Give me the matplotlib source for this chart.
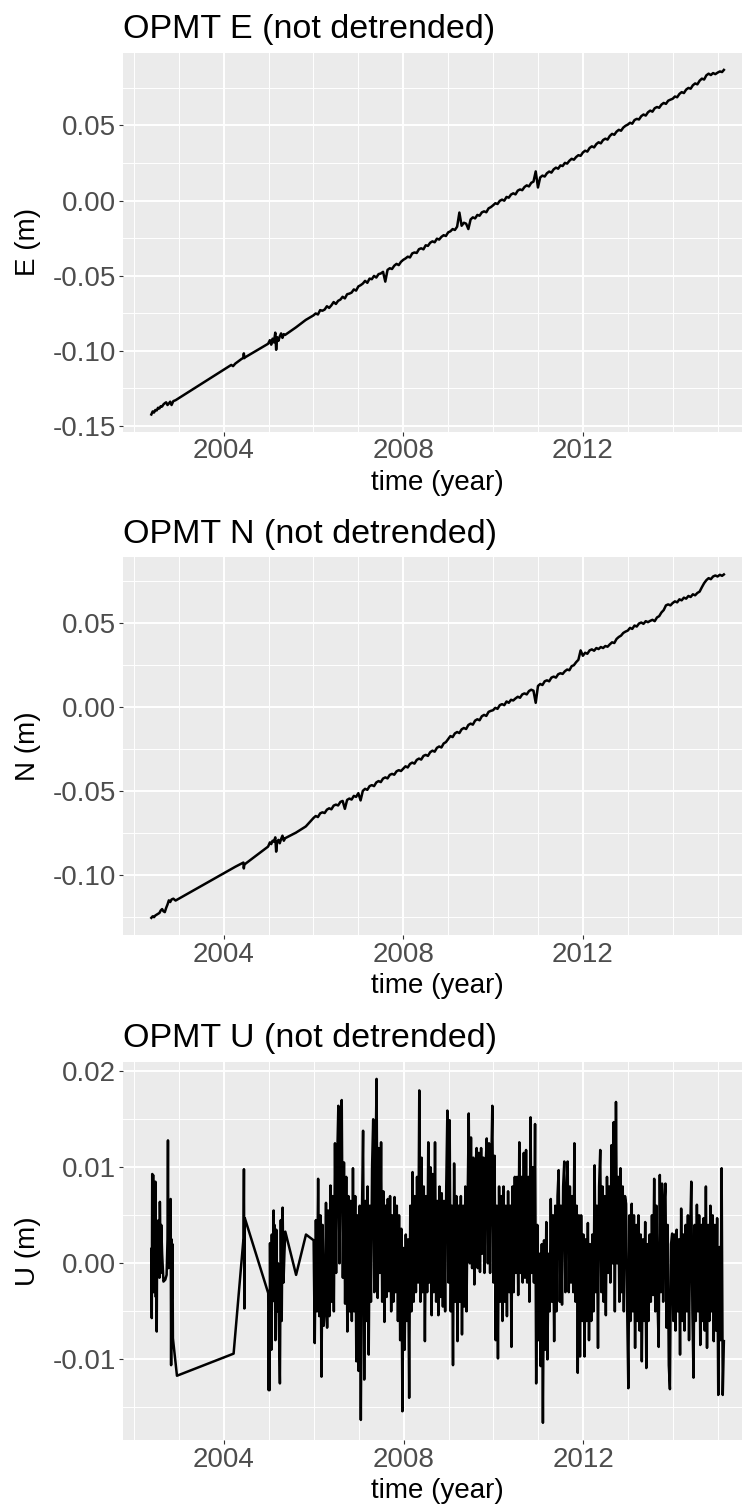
import numpy as np
import matplotlib.pyplot as plt
from matplotlib.ticker import FixedLocator, FormatStrFormatter

plt.rcParams["font.family"] = ["Liberation Sans", "DejaVu Sans"]
plt.rcParams["axes.unicode_minus"] = False

# ---- data (values in mm) ----
# sparse epochs before continuous tracking, E and N components
t_en_sparse = [2002.39, 2002.42, 2002.45, 2002.48, 2002.51, 2002.54, 2002.57, 2002.60, 2002.63,
               2002.66, 2002.69, 2002.72, 2002.75, 2002.78, 2002.81, 2002.84, 2002.88, 2002.93,
               2004.17, 2004.21, 2004.26, 2004.40, 2004.44, 2004.45, 2004.46, 2004.48,
               2004.99, 2005.03, 2005.06, 2005.09, 2005.12, 2005.15, 2005.17, 2005.19, 2005.22,
               2005.25, 2005.28, 2005.31, 2005.34, 2005.37,
               2005.61, 2005.83]
e_sparse_mm = [-142.5, -140.5, -141.2, -139.5, -139.8, -138.0, -138.5, -137.0, -137.2,
               -135.8, -135.0, -134.4, -136.2, -135.2, -134.0, -136.2, -133.6, -133.0,
               -109.5, -110.3, -108.6, -105.5, -104.8, -101.8, -105.0, -104.4,
               -95.4, -93.0, -96.0, -92.0, -94.5, -88.0, -99.4, -91.0, -93.5,
               -90.5, -88.5, -91.5, -89.0, -89.5,
               -84.5, -79.5]
n_sparse_mm = [-125.4, -124.5, -125.0, -124.0, -123.5, -123.0, -122.5, -121.0, -120.2,
               -121.5, -122.0, -119.5, -117.5, -115.0, -116.0, -114.5, -114.0, -115.1,
               -96.3, -95.7, -95.0, -93.0, -92.5, -96.0, -94.0, -93.3,
               -83.0, -80.5, -81.5, -79.5, -80.0, -77.5, -86.0, -80.5, -79.0,
               -81.0, -78.5, -76.5, -79.5, -78.0,
               -74.7, -71.0]

# continuous part from 2006.0, one value every 0.05 yr (20 per year)
e_dense_mm = [
    -76.5, -75.2, -75.9, -73.0, -73.4, -72.6, -70.4, -71.5, -69.8, -67.6, -68.9, -66.8, -66.0, -64.1, -65.2, -62.4, -62.0, -61.3, -59.2, -60.0,
    -57.2, -56.4, -55.3, -53.5, -54.8, -52.0, -52.4, -50.2, -51.3, -49.0, -48.6, -47.5, -54.0, -46.2, -45.1, -45.6, -43.4, -42.2, -43.0, -40.8,
    -39.5, -38.6, -37.4, -37.9, -35.2, -34.6, -34.9, -32.4, -31.8, -32.5, -29.8, -30.2, -28.1, -27.2, -27.8, -25.4, -26.0, -24.2, -23.1, -23.6,
    -21.2, -20.5, -19.0, -19.6, -17.4, -8.0, -16.8, -14.8, -15.4, -19.0, -12.6, -11.2, -11.9, -9.6, -10.1, -7.9, -7.2, -7.8, -5.2, -4.4,
    -3.2, -1.8, -2.3, -0.2, 0.6, -0.1, 2.4, 1.9, 4.0, 4.8, 4.1, 6.6, 7.4, 6.9, 9.0, 10.1, 9.4, 11.8, 12.6, 19.4,
    8.7, 15.4, 16.6, 16.0, 18.2, 19.3, 18.6, 20.8, 21.9, 21.2, 23.4, 23.0, 25.1, 24.6, 26.5, 27.8, 27.2, 29.0, 30.2, 29.8,
    32.0, 33.2, 32.6, 35.0, 36.1, 35.4, 37.6, 38.8, 38.1, 40.3, 41.2, 40.6, 43.0, 44.4, 43.8, 45.9, 47.1, 46.5, 48.6, 49.8,
    50.6, 51.8, 51.2, 53.6, 54.4, 54.0, 56.2, 57.3, 56.6, 58.8, 59.9, 59.2, 61.5, 62.3, 61.8, 63.9, 65.0, 64.4, 66.5, 67.2,
    67.8, 69.3, 68.8, 71.0, 72.2, 71.6, 73.9, 75.0, 74.5, 76.8, 78.0, 77.4, 79.8, 81.2, 80.6, 83.4, 84.5, 83.6, 84.9, 84.2,
    85.2, 86.0, 85.6]
n_dense_mm = [
    -66.0, -64.8, -65.4, -63.2, -62.6, -63.0, -61.0, -60.2, -60.8, -58.6, -58.0, -58.5, -56.4, -55.8, -60.5, -55.2, -54.4, -55.0, -52.8, -53.4,
    -51.2, -55.5, -49.8, -48.6, -49.2, -47.0, -46.4, -47.0, -44.8, -44.0, -44.6, -42.5, -41.8, -42.4, -40.3, -39.7, -40.2, -38.2, -37.5, -38.0,
    -36.6, -35.2, -35.9, -33.8, -33.0, -33.6, -31.4, -30.6, -31.2, -29.0, -28.4, -29.0, -26.8, -25.9, -26.5, -24.2, -23.4, -24.0, -21.6, -20.8,
    -19.0, -17.2, -17.8, -15.6, -14.8, -15.4, -13.2, -12.4, -13.0, -10.6, -9.8, -10.4, -8.0, -7.2, -7.8, -5.4, -4.6, -5.2, -2.8, -2.2,
    -1.8, -0.4, -1.0, 1.2, 1.8, 1.2, 3.4, 2.6, 4.4, 4.0, 5.2, 6.2, 5.6, 7.6, 8.2, 7.6, 9.6, 10.4, 9.8, 2.6,
    12.6, 13.8, 13.2, 15.4, 16.0, 15.4, 17.6, 18.2, 17.6, 19.6, 20.2, 19.8, 21.4, 22.4, 22.0, 24.4, 25.0, 26.8, 28.2, 33.8,
    30.6, 32.4, 31.8, 33.8, 34.4, 33.6, 35.2, 34.6, 35.8, 35.2, 36.4, 36.0, 37.4, 38.6, 38.2, 40.6, 41.8, 42.6, 44.2, 45.0,
    45.6, 47.2, 46.6, 48.6, 48.0, 49.8, 50.4, 49.6, 51.2, 50.6, 51.4, 52.0, 51.2, 53.4, 54.2, 56.4, 57.8, 60.6, 61.2, 60.6,
    62.0, 63.0, 62.4, 64.2, 63.6, 65.2, 64.6, 66.2, 65.6, 67.2, 66.6, 68.0, 68.8, 71.4, 73.8, 75.6, 76.8, 76.2, 77.8, 78.4,
    77.8, 78.8, 78.2]
t_en_tail = [2015.14]
e_tail_mm = [87.0]
n_tail_mm = [79.0]

# U component: sparse epochs, then one value every 0.025 yr from 2006.0 (40 per year)
t_u_sparse = [2002.39, 2002.40, 2002.41, 2002.42, 2002.43, 2002.44, 2002.46, 2002.47, 2002.48, 2002.49,
              2002.50, 2002.51, 2002.52, 2002.54, 2002.55, 2002.57, 2002.58, 2002.60, 2002.61, 2002.63,
              2002.66, 2002.70, 2002.73, 2002.75, 2002.76, 2002.77, 2002.79, 2002.80, 2002.82, 2002.83,
              2002.84, 2002.85, 2002.86, 2002.87, 2002.96,
              2004.22, 2004.44, 2004.45, 2004.46, 2004.47,
              2004.99, 2005.00, 2005.01, 2005.02, 2005.03, 2005.04, 2005.05, 2005.06, 2005.07, 2005.08,
              2005.10, 2005.11, 2005.12, 2005.13, 2005.15, 2005.17, 2005.19, 2005.21, 2005.23, 2005.25,
              2005.27, 2005.29, 2005.31, 2005.33, 2005.35, 2005.37,
              2005.61, 2005.83]
u_sparse_mm = [1.5, -5.7, 9.3, 0.5, 9.2, -3.0, 5.0, -2.6, 8.5, -3.5,
               2.0, -7.1, 3.0, 0.0, 4.5, -1.5, 6.4, -1.0, 4.0, 1.0,
               -1.9, -1.7, -1.2, 2.5, 12.8, -0.5, 4.0, 1.0, 6.7, -10.6,
               2.5, -3.6, 2.0, -7.8, -11.7,
               -9.4, 2.6, 9.8, -4.7, 4.7,
               -3.1, -13.2, -5.0, -13.2, 2.1, -6.0, -1.0, -9.0, 3.0, -4.0,
               1.0, 5.5, -3.0, 4.0, -8.0, 3.5, -5.0, 0.0, -7.0, -12.5,
               4.5, -6.0, 5.8, -2.0, 1.0, 3.3,
               -1.2, 3.0]
u_dense_mm = [
    2.4, -8.3, 4.5, -5.0, 8.8, -5.5, 5.0, -11.8, 4.0, -6.5,
    -5.0, 6.3, -6.7, 5.5, -5.5, 8.1, -4.0, 7.0, -5.0, 12.5,
    -1.0, 11.0, 16.4, 0.0, 13.0, 17.0, -1.5, 10.5, -4.2, 9.0,
    -7.1, 7.0, -5.0, 6.5, -6.0, 9.9, -5.0, 7.0, -10.2, 5.0,
    -11.2, 6.0, -16.3, 5.0, 13.8, -12.1, 6.5, -6.0, 8.0, -9.5,
    6.0, -4.0, 10.0, 15.0, -3.0, 9.5, 19.2, -3.6, 12.0, -1.0,
    12.6, -4.0, 7.5, -6.1, 6.0, -3.5, 6.7, -2.9, 7.0, -5.0,
    5.0, -4.0, 6.9, -3.0, 6.0, -6.0, 5.0, -8.0, 3.6, -15.4,
    1.6, -9.0, 3.0, -6.0, 2.5, -14.0, 6.0, -5.0, 9.5, -4.0,
    7.0, -3.0, 9.0, -2.0, 18.0, -4.0, 11.0, -3.0, 8.0, -8.1,
    7.0, -3.0, 12.6, -2.0, 10.0, -5.4, 9.3, -3.0, 12.6, -4.0,
    6.5, -5.4, 8.0, -3.5, 7.3, -4.5, 6.5, -5.0, 8.0, 15.9,
    -2.0, 14.9, -5.0, 6.0, -10.6, 10.4, -4.0, 7.0, -8.1, 6.0,
    -4.0, 7.0, -7.4, 6.0, -4.5, 8.0, -5.0, 6.0, 15.6, 0.0,
    13.1, -0.5, 11.0, -2.2, 10.0, 12.0, -0.5, 11.5, -0.9, 12.0,
    1.0, 11.0, -1.0, 10.0, 13.0, 0.0, 12.5, -1.0, 10.0, 16.4,
    -2.0, 11.2, -8.0, 6.0, -9.9, 8.0, -4.0, 7.0, -6.0, 8.0,
    -4.0, 6.0, -5.5, 7.5, -3.0, 6.0, -8.7, 8.0, -3.0, 9.0,
    -1.0, 9.0, -3.3, 12.6, -1.0, 9.0, -2.0, 11.5, -1.5, 11.8,
    -2.0, 9.0, -4.0, 15.2, -1.0, 10.0, -2.0, 14.5, -12.5, 4.0,
    -8.0, 1.0, -10.7, 2.0, -16.6, 2.4, -9.0, 4.3, -10.0, 1.0,
    -5.0, 6.7, -4.0, 5.0, -8.1, 6.0, -5.0, 7.0, 9.7, -4.0,
    6.0, -4.3, 8.0, 10.6, -3.0, 7.0, 10.6, -3.0, 8.0, -2.0,
    7.0, -3.0, 12.5, -4.0, 6.0, -11.4, 5.0, -9.7, 5.0, -6.0,
    3.0, -9.7, 2.5, -6.0, 4.2, -8.0, 2.0, -6.0, 3.0, -5.0,
    10.2, -3.0, 6.0, -8.8, 8.0, 11.8, -3.0, 8.0, -4.0, 7.0,
    -5.4, 9.0, -1.0, 8.0, -2.0, 12.3, 0.0, 14.7, -5.0, 16.8,
    0.0, 9.0, -4.0, 9.9, -3.0, 8.0, -5.0, 7.0, 6.2, -5.0,
    -13.0, 5.0, -6.0, 6.2, -5.0, 5.0, -8.8, 4.0, -6.0, 5.0,
    -7.0, 3.0, -10.2, 2.5, -6.0, 4.3, -10.9, 2.0, -6.0, 3.0,
    -4.0, 5.0, -3.3, 8.8, -5.0, 6.0, -4.0, -8.7, 9.2, -3.0,
    8.3, -4.0, 6.0, 8.3, -6.7, 4.0, -10.6, -13.1, 2.0, 3.1,
    -6.0, 3.0, -7.0, 3.5, -5.0, 2.5, -9.5, 5.7, -6.0, 3.0,
    -7.0, 4.0, -5.0, 5.0, -8.0, 3.0, 8.5, -5.0, -11.9, 4.0,
    -6.0, 6.1, -5.0, 5.0, -8.5, 4.0, -6.0, 4.7, -7.0, 8.0,
    -8.8, 4.0, -6.0, 6.0, -5.0, 5.0, -8.1, 4.0, -7.0, 4.7,
    -13.7, 1.7, -8.0, 9.9, -13.7, -8.1]

titles = ["OPMT E (not detrended)", "OPMT N (not detrended)", "OPMT U (not detrended)"]
ylabels = ["E (m)", "N (m)", "U (m)"]
yticks = [[-0.15, -0.10, -0.05, 0.00, 0.05],
          [-0.10, -0.05, 0.00, 0.05],
          [-0.01, 0.00, 0.01, 0.02]]
xticks = [2004, 2008, 2012]

# ---- assemble series ----
t_en = np.concatenate([t_en_sparse, 2006.0 + 0.05 * np.arange(len(e_dense_mm)), t_en_tail])
e = np.concatenate([e_sparse_mm, e_dense_mm, e_tail_mm]) / 1000
n = np.concatenate([n_sparse_mm, n_dense_mm, n_tail_mm]) / 1000
t_u = np.concatenate([t_u_sparse, 2006.0 + 0.025 * np.arange(len(u_dense_mm))])
u = np.concatenate([u_sparse_mm, u_dense_mm]) / 1000
series = [(t_en, e), (t_en, n), (t_u, u)]

# ---- plotting (ggplot2 theme_gray look) ----
W, H = 742, 1508
fig = plt.figure(figsize=(W / 100, H / 100), dpi=100)
panel_px = [(52.7, 431.7), (557.3, 935.0), (1061.7, 1440.0)]
left_px, right_px = 122.7, 752.5


def expand(v):
    lo, hi = np.min(v), np.max(v)
    pad = 0.05 * (hi - lo)
    return lo - pad, hi + pad


for (top, bot), (t, y), title, ylab, yt in zip(panel_px, series, titles, ylabels, yticks):
    ax = fig.add_axes([left_px / W, 1 - bot / H, (right_px - left_px) / W, (bot - top) / H])
    ax.set_facecolor("#EBEBEB")
    for s in ax.spines.values():
        s.set_visible(False)

    ax.set_xlim(*expand(t))
    ax.set_ylim(*expand(y))

    ax.xaxis.set_major_locator(FixedLocator(xticks))
    ax.xaxis.set_minor_locator(FixedLocator([yr for yr in range(2002, 2016) if yr not in xticks]))
    ax.yaxis.set_major_locator(FixedLocator(yt))
    step = yt[1] - yt[0]
    ax.yaxis.set_minor_locator(FixedLocator([v - step / 2 for v in yt] + [yt[-1] + step / 2]))
    ax.yaxis.set_major_formatter(FormatStrFormatter("%.2f"))

    ax.grid(which="major", color="white", lw=1.4)
    ax.grid(which="minor", color="white", lw=0.7)
    ax.set_axisbelow(True)

    ax.plot(t, y, color="black", lw=1.8)

    ax.tick_params(which="major", length=3.2, width=0.8, color="#333333",
                   labelsize=20, labelcolor="#4D4D4D", pad=1.5)
    ax.tick_params(which="minor", length=0)

    ax.set_title(title, loc="left", fontsize=24.5, pad=10.5)
    ax.set_xlabel("time (year)", fontsize=20)
    ax.set_ylabel(ylab, fontsize=20)
    ax.xaxis.set_label_coords(0.5, -0.1)
    ax.yaxis.set_label_coords(-0.13, 0.5)

fig.savefig("out.png", dpi=100)
